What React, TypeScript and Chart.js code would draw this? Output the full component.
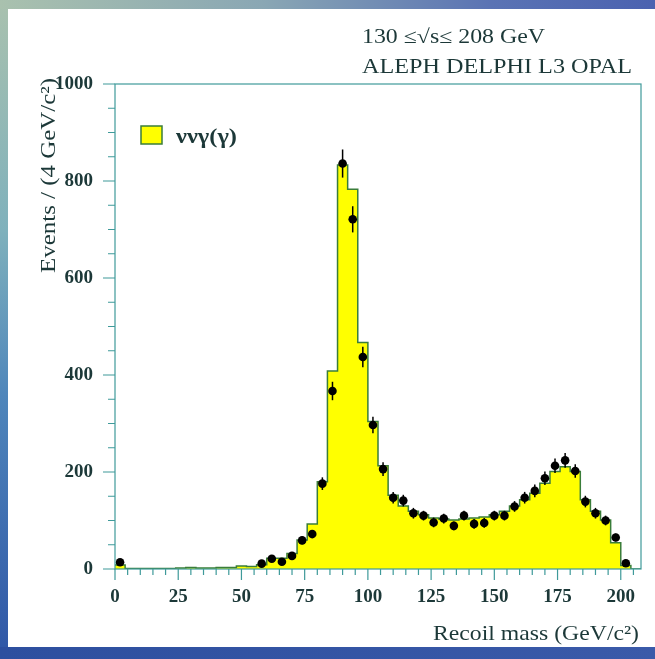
import { useEffect, useRef } from "react";
import { Chart, registerables } from "chart.js";

Chart.register(...registerables);

// ---- data ----
const BIN_WIDTH = 4; // GeV/c^2
// Monte Carlo histogram (bins of 4 GeV starting at 0)
const histCounts = [
  8, 1, 1, 1, 1, 1, 2, 3, 2, 2, 3, 3, 6, 5, 9, 22, 22, 32, 60, 93,
  180, 408, 833, 783, 467, 304, 213, 152, 130, 119, 112, 105, 103, 101, 103, 105,
  107, 112, 119, 130, 143, 156, 177, 201, 211, 201, 143, 119, 101, 54, 7, 0,
];
// Data points (bin centres, counts, errors)
const dataMass = [
  2, 58, 62, 66, 70, 74, 78, 82, 86, 90, 94, 98, 102, 106, 110, 114, 118, 122, 126,
  130, 134, 138, 142, 146, 150, 154, 158, 162, 166, 170, 174, 178, 182, 186, 190,
  194, 198, 202,
];
const dataCounts = [
  14, 11, 21, 15, 27, 59, 72, 176, 367, 836, 721, 437, 297, 206, 147, 141, 115, 110,
  96, 104, 89, 110, 93, 95, 110, 110, 129, 147, 161, 187, 213, 224, 202, 139, 115,
  100, 65, 12,
];
const dataErrors = [
  4, 3, 5, 4, 5, 8, 8, 13, 19, 29, 27, 21, 17, 14, 12, 12, 11, 10, 10, 10, 9, 10,
  10, 10, 10, 10, 11, 12, 13, 14, 15, 15, 14, 12, 11, 10, 8, 3,
];
const xMajorTicks = [0, 25, 50, 75, 100, 125, 150, 175, 200];
const yMajorTicks = [0, 200, 400, 600, 800, 1000];
const xMinorStep = 5;
const yMinorStep = 50;
const X_MAX = 208;
const Y_MAX = 1000;

const legendLabel = "ννγ(γ)";
const energyText = "130 ≤√s≤ 208 GeV";
const experimentsText = "ALEPH DELPHI L3 OPAL";
const yTitle = "Events / (4 GeV/c²)";
const xTitle = "Recoil mass (GeV/c²)";

// ---- styles ----
const AXIS_COLOR = "#3f9a9a";
const TEXT_COLOR = "#1c3838";
const FILL_COLOR = "#ffff00";
const OUTLINE_COLOR = "#3a7d3a";
const SERIF = "'Liberation Serif', 'DejaVu Serif', serif";

function drawFitted(
  ctx: CanvasRenderingContext2D,
  text: string,
  x: number,
  y: number,
  width: number,
  font: string,
  align: CanvasTextAlign,
  rotate = 0
) {
  ctx.save();
  ctx.font = font;
  ctx.textAlign = align;
  ctx.textBaseline = "alphabetic";
  const w = ctx.measureText(text).width;
  ctx.translate(x, y);
  if (rotate) ctx.rotate(rotate);
  ctx.scale(width / w, 1);
  ctx.fillText(text, 0, 0);
  ctx.restore();
}

const decorPlugin = {
  id: "decor",
  afterDatasetsDraw(chart: any) {
    const ctx = chart.ctx as CanvasRenderingContext2D;
    const xs = chart.scales.x;
    const ys = chart.scales.y;
    const area = chart.chartArea;
    ctx.save();
    // error bars
    ctx.strokeStyle = "#000";
    ctx.lineWidth = 1.5;
    dataMass.forEach((m, i) => {
      const px = xs.getPixelForValue(m);
      const y1 = ys.getPixelForValue(dataCounts[i] - dataErrors[i]);
      const y2 = ys.getPixelForValue(dataCounts[i] + dataErrors[i]);
      ctx.beginPath();
      ctx.moveTo(px, y1);
      ctx.lineTo(px, y2);
      ctx.stroke();
    });
    // frame
    ctx.strokeStyle = AXIS_COLOR;
    ctx.lineWidth = 1.2;
    ctx.strokeRect(area.left, area.top, area.right - area.left, area.bottom - area.top);
    // ticks
    ctx.beginPath();
    for (let v = 0; v <= X_MAX; v += xMinorStep) {
      const px = xs.getPixelForValue(v);
      const len = xMajorTicks.includes(v) ? 11 : 6;
      ctx.moveTo(px, area.bottom);
      ctx.lineTo(px, area.bottom + len);
    }
    for (let v = 0; v <= Y_MAX; v += yMinorStep) {
      const py = ys.getPixelForValue(v);
      const len = yMajorTicks.includes(v) ? 12 : 7;
      ctx.moveTo(area.left, py);
      ctx.lineTo(area.left - len, py);
    }
    ctx.stroke();
    ctx.restore();
  },
  afterDraw(chart: any) {
    const ctx = chart.ctx as CanvasRenderingContext2D;
    const area = chart.chartArea;
    ctx.save();
    ctx.fillStyle = TEXT_COLOR;
    // header texts
    drawFitted(ctx, energyText, 362, 43, 183, `20px ${SERIF}`, "left");
    drawFitted(ctx, experimentsText, 362, 73, 270, `20px ${SERIF}`, "left");
    // legend
    ctx.fillStyle = FILL_COLOR;
    ctx.fillRect(141, 126, 21, 18);
    ctx.strokeStyle = OUTLINE_COLOR;
    ctx.lineWidth = 1.5;
    ctx.strokeRect(141, 126, 21, 18);
    ctx.fillStyle = TEXT_COLOR;
    drawFitted(ctx, legendLabel, 176, 143, 61, `bold 20px ${SERIF}`, "left");
    // x title
    drawFitted(ctx, xTitle, area.right - 2, 640, 206, `21px ${SERIF}`, "right");
    // y title
    drawFitted(ctx, yTitle, 55, area.top - 6, 195, `21px ${SERIF}`, "right", -Math.PI / 2);
    ctx.restore();
  },
};

export default function App() {
  const canvasRef = useRef<HTMLCanvasElement>(null);

  useEffect(() => {
    if (!canvasRef.current) return;
    const histPoints = histCounts.map((v, i) => ({ x: i * BIN_WIDTH, y: v }));
    histPoints.push({ x: histCounts.length * BIN_WIDTH, y: 0 });
    const points = dataMass.map((m, i) => ({ x: m, y: dataCounts[i] }));

    const chart = new Chart(canvasRef.current, {
      type: "line",
      data: {
        datasets: [
          {
            type: "scatter",
            label: "data",
            data: points,
            pointRadius: 4.3,
            pointBackgroundColor: "#000",
            pointBorderColor: "#000",
            pointBorderWidth: 0,
            showLine: false,
          } as any,
          {
            type: "line",
            label: legendLabel,
            data: histPoints,
            stepped: "before",
            fill: "origin",
            backgroundColor: FILL_COLOR,
            borderColor: OUTLINE_COLOR,
            borderWidth: 1.5,
            pointRadius: 0,
            tension: 0,
          } as any,
        ],
      },
      options: {
        animation: false,
        responsive: false,
        devicePixelRatio: 1,
        layout: { padding: { top: 84, right: 14, left: 0, bottom: 0 } },
        plugins: {
          legend: { display: false },
          tooltip: { enabled: false },
        },
        scales: {
          x: {
            type: "linear",
            min: 0,
            max: X_MAX,
            grid: { display: false, drawTicks: false },
            border: { display: false },
            afterBuildTicks: (s: any) => {
              s.ticks = xMajorTicks.map((v) => ({ value: v }));
            },
            afterFit: (s: any) => {
              s.height = 90;
            },
            ticks: {
              autoSkip: false,
              maxRotation: 0,
              padding: 17,
              color: TEXT_COLOR,
              font: { family: SERIF, size: 19, weight: "bold" },
              callback: (v: any) => String(v),
            },
          },
          y: {
            type: "linear",
            min: 0,
            max: Y_MAX,
            grid: { display: false, drawTicks: false },
            border: { display: false },
            afterBuildTicks: (s: any) => {
              s.ticks = yMajorTicks.map((v) => ({ value: v }));
            },
            afterFit: (s: any) => {
              s.width = 115;
            },
            ticks: {
              autoSkip: false,
              padding: 22,
              color: TEXT_COLOR,
              font: { family: SERIF, size: 19, weight: "bold" },
              callback: (v: any) => String(v),
            },
          },
        },
      } as any,
      plugins: [decorPlugin],
    });
    return () => chart.destroy();
  }, []);

  return (
    <div
      style={{
        position: "fixed",
        left: 0,
        top: 0,
        width: 655,
        height: 659,
        background: "linear-gradient(180deg, #a9c1ae 0%, #7fb1bc 35%, #4f86bb 60%, #2f56a6 100%)",
        overflow: "hidden",
      }}
    >
      <div
        style={{
          position: "absolute",
          left: 0,
          top: 0,
          width: 655,
          height: 9,
          background: "linear-gradient(90deg, #a9c1ae 0%, #8aa7b4 40%, #5a73b4 75%, #4b62b0 100%)",
        }}
      />
      <div
        style={{
          position: "absolute",
          left: 0,
          bottom: 0,
          width: 655,
          height: 12,
          background: "linear-gradient(90deg, #2d4f9f 0%, #3a5aa9 100%)",
        }}
      />
      <div
        style={{
          position: "absolute",
          left: 8,
          top: 9,
          width: 647,
          height: 638,
          background: "#ffffff",
        }}
      />
      <canvas
        ref={canvasRef}
        width={655}
        height={659}
        style={{ position: "absolute", left: 0, top: 0, width: 655, height: 659 }}
      />
    </div>
  );
}
